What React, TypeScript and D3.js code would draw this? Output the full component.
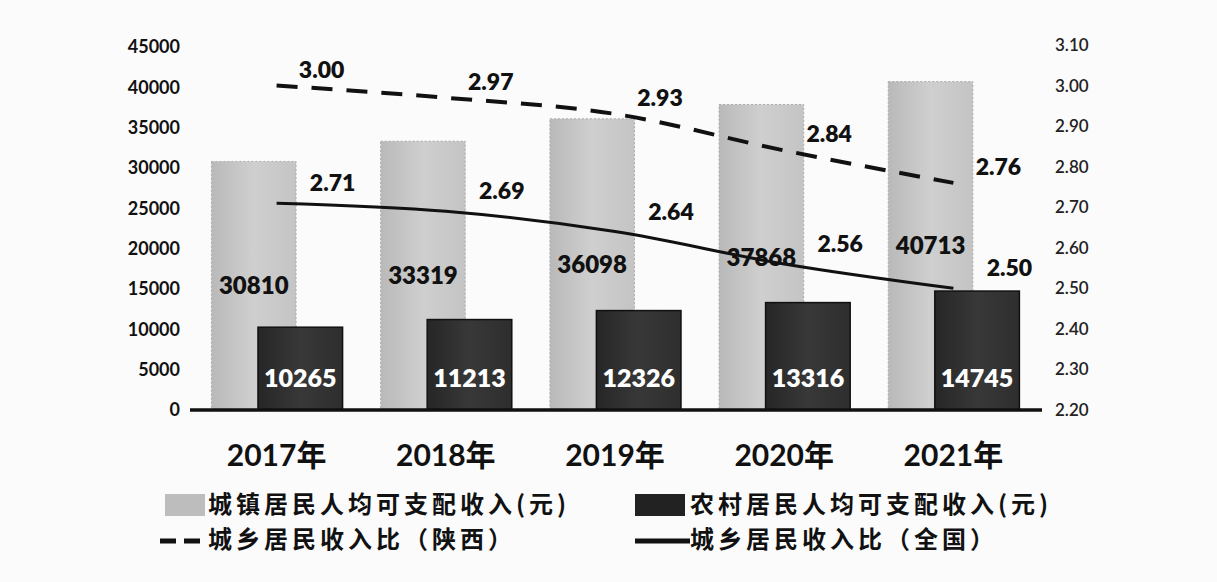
import React from "react";
import * as d3 from "d3";

const years = ["2017年", "2018年", "2019年", "2020年", "2021年"];
const urbanIncome = [30810, 33319, 36098, 37868, 40713];
const ruralIncome = [10265, 11213, 12326, 13316, 14745];
const ratioShaanxi = [3.0, 2.97, 2.93, 2.84, 2.76];
const ratioNational = [2.71, 2.69, 2.64, 2.56, 2.5];
const leftTicks = [0, 5000, 10000, 15000, 20000, 25000, 30000, 35000, 40000, 45000];
const rightTicks = [2.2, 2.3, 2.4, 2.5, 2.6, 2.7, 2.8, 2.9, 3.0, 3.1];
const legendNames = [
  "城镇居民人均可支配收入(元)",
  "农村居民人均可支配收入(元)",
  "城乡居民收入比（陕西）",
  "城乡居民收入比（全国）",
];

const W = 1217;
const H = 582;
const numFont = "Lato, 'Noto Sans CJK SC', sans-serif";
const cjkFont = "'Noto Sans CJK SC', sans-serif";

export default function App() {
  // 坐标
  const x = d3.scaleBand().domain(years).range([192, 1038]).padding(0);
  const bw = x.bandwidth();
  const cx = (d: string) => (x(d) ?? 0) + bw / 2;
  const yL = d3.scaleLinear().domain([0, 45000]).range([410, 47]);
  const yR = d3.scaleLinear().domain([2.2, 3.1]).range([410, 45]);
  const barW = bw * 0.5;

  const line = d3
    .line<number>()
    .x((_, i) => cx(years[i]))
    .y((d) => yR(d))
    .curve(d3.curveMonotoneX);

  return (
    <svg
      width={W}
      height={H}
      style={{ position: "absolute", left: 0, top: 0, background: "#fbfbfb" }}
    >
      <defs>
        <linearGradient id="urb" x1="0" x2="1" y1="0" y2="0">
          <stop offset="0" stopColor="#b9b9b9" />
          <stop offset="0.5" stopColor="#cfcfcf" />
          <stop offset="1" stopColor="#c4c4c4" />
        </linearGradient>
        <linearGradient id="rur" x1="0" x2="1" y1="0" y2="0">
          <stop offset="0" stopColor="#262626" />
          <stop offset="0.5" stopColor="#383838" />
          <stop offset="1" stopColor="#2e2e2e" />
        </linearGradient>
      </defs>

      {/* 左轴 */}
      {leftTicks.map((t) => (
        <text
          key={"l" + t}
          x={180}
          y={yL(t)}
          dy="0.35em"
          textAnchor="end"
          fontFamily={numFont}
          fontWeight={700}
          fontSize={18}
          fill="#111"
        >
          {t}
        </text>
      ))}
      {/* 右轴 */}
      {rightTicks.map((t) => (
        <text
          key={"r" + t}
          x={1055}
          y={yR(t)}
          dy="0.35em"
          fontFamily={numFont}
          fontWeight={600}
          fontSize={17}
          fill="#222"
        >
          {t.toFixed(2)}
        </text>
      ))}

      {/* 城镇 */}
      {years.map((d, i) => (
        <g key={"u" + d}>
          <rect
            x={cx(d) - bw * 0.385}
            y={yL(urbanIncome[i])}
            width={barW}
            height={yL(0) - yL(urbanIncome[i])}
            fill="url(#urb)"
            stroke="#aaa"
            strokeWidth={1}
            strokeDasharray="2 2"
          />
          <text
            x={cx(d) - bw * 0.385 + barW / 2}
            y={(yL(urbanIncome[i]) + yL(0)) / 2}
            dy="0.35em"
            textAnchor="middle"
            fontFamily={numFont}
            fontWeight={800}
            fontSize={24}
            fill="#111"
          >
            {urbanIncome[i]}
          </text>
        </g>
      ))}
      {/* 农村 */}
      {years.map((d, i) => (
        <g key={"r" + d}>
          <rect
            x={cx(d) - bw * 0.11}
            y={yL(ruralIncome[i])}
            width={barW}
            height={yL(0) - yL(ruralIncome[i])}
            fill="url(#rur)"
            stroke="#111"
            strokeWidth={1.5}
          />
          <text
            x={cx(d) - bw * 0.11 + barW / 2}
            y={yL(0) - 32}
            dy="0.35em"
            textAnchor="middle"
            fontFamily={numFont}
            fontWeight={800}
            fontSize={25}
            fill="#fff"
          >
            {ruralIncome[i]}
          </text>
        </g>
      ))}

      {/* 基线 */}
      <line x1={190} x2={1042} y1={yL(0)} y2={yL(0)} stroke="#111" strokeWidth={3.5} />

      {/* 折线 */}
      <path
        d={line(ratioShaanxi) ?? ""}
        fill="none"
        stroke="#111"
        strokeWidth={4}
        strokeDasharray="21 14"
      />
      <path d={line(ratioNational) ?? ""} fill="none" stroke="#111" strokeWidth={3} />
      {ratioShaanxi.map((v, i) => (
        <text
          key={"s" + i}
          x={cx(years[i]) + 45}
          y={yR(v) - 16}
          dy="0.35em"
          textAnchor="middle"
          fontFamily={numFont}
          fontWeight={800}
          fontSize={23}
          fill="#111"
        >
          {v.toFixed(2)}
        </text>
      ))}
      {ratioNational.map((v, i) => (
        <text
          key={"n" + i}
          x={cx(years[i]) + 56}
          y={yR(v) - 20}
          dy="0.35em"
          textAnchor="middle"
          fontFamily={numFont}
          fontWeight={800}
          fontSize={23}
          fill="#111"
        >
          {v.toFixed(2)}
        </text>
      ))}

      {/* 年份 */}
      {years.map((d) => (
        <text
          key={"x" + d}
          x={cx(d)}
          y={455}
          dy="0.35em"
          textAnchor="middle"
          fontFamily={numFont}
          fontWeight={700}
          fontSize={30}
          fill="#111"
        >
          {d}
        </text>
      ))}

      {/* 图例 */}
      <g fontFamily={cjkFont} fontWeight={700} fontSize={24} letterSpacing={4} fill="#111">
        <rect x={165} y={494} width={40} height={22} fill="#bdbdbd" />
        <text x={208} y={505} dy="0.35em">{legendNames[0]}</text>
        <rect x={635} y={494} width={50} height={22} fill="#222" />
        <text x={690} y={505} dy="0.35em">{legendNames[1]}</text>
        <line x1={160} x2={205} y1={541} y2={541} stroke="#111" strokeWidth={5} strokeDasharray="16 8" />
        <text x={208} y={540} dy="0.35em">{legendNames[2]}</text>
        <line x1={635} x2={690} y1={541} y2={541} stroke="#111" strokeWidth={5} />
        <text x={690} y={540} dy="0.35em">{legendNames[3]}</text>
      </g>
    </svg>
  );
}
